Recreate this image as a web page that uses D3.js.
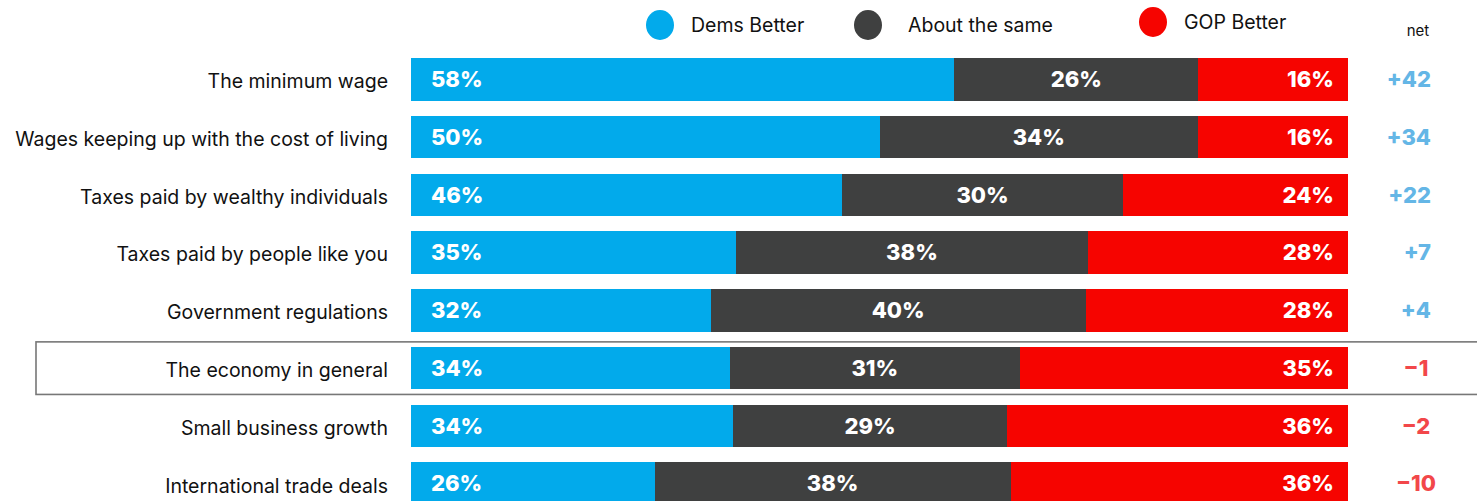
<!DOCTYPE html>
<html>
<head>
<meta charset="utf-8">
<script src="https://cdn.jsdelivr.net/npm/d3@7"></script>
<style>
  html, body { margin: 0; padding: 0; background: #fff; }
  svg { display: block; font-family: "Inter", "Lato", sans-serif; }
</style>
</head>
<body>
<svg id="chart" width="1477" height="501"></svg>
<script>
// Issue rows, top to bottom
const issues = [
  "The minimum wage",
  "Wages keeping up with the cost of living",
  "Taxes paid by wealthy individuals",
  "Taxes paid by people like you",
  "Government regulations",
  "The economy in general",
  "Small business growth",
  "International trade deals"
];
// Share saying each party would do better (percent)
const demsBetter = [58, 50, 46, 35, 32, 34, 34, 26];
const aboutSame  = [26, 34, 30, 38, 40, 31, 29, 38];
const gopBetter  = [16, 16, 24, 28, 28, 35, 36, 36];
// Net advantage (Dems minus GOP)
const netValues  = [42, 34, 22, 7, 4, -1, -2, -10];
const netLabels  = ["+42", "+34", "+22", "+7", "+4", "\u22121", "\u22122", "\u221210"];
// Series / legend
const seriesKeys   = ["dems", "same", "gop"];
const seriesNames  = ["Dems Better", "About the same", "GOP Better"];
const highlighted  = "The economy in general";

const colors = { dems: "#02aaeb", same: "#3f4040", gop: "#f60400" };
const netColors = { pos: "#64b6e6", neg: "#f2474a" };

const svg = d3.select("#chart");

const rows = issues.map((name, i) => ({
  name, dems: demsBetter[i], same: aboutSame[i], gop: gopBetter[i],
  net: netValues[i], netLabel: netLabels[i]
}));

// Each row is stacked to its own total so bars span the full width
const normalized = rows.map(r => {
  const tot = r.dems + r.same + r.gop;
  return { name: r.name, dems: r.dems / tot, same: r.same / tot, gop: r.gop / tot };
});
const stacked = d3.stack().keys(seriesKeys)(normalized);

const x = d3.scaleLinear().domain([0, 1]).range([411, 1348]);
const y = d3.scaleBand().domain(issues).range([58, 505]).paddingInner(0.263).paddingOuter(0);

// highlight frame around one row
const hy = y(highlighted);
svg.append("rect")
  .attr("x", 36).attr("y", hy - 5)
  .attr("width", 1460).attr("height", y.bandwidth() + 10)
  .attr("fill", "none").attr("stroke", "#777").attr("stroke-width", 1.6);

// stacked segments
const layers = svg.append("g").selectAll("g")
  .data(stacked).join("g")
  .attr("fill", d => colors[d.key]);

layers.selectAll("rect")
  .data(d => d.map(v => ({ key: d.key, v })))
  .join("rect")
  .attr("x", d => x(d.v[0]))
  .attr("y", d => y(d.v.data.name))
  .attr("width", d => x(d.v[1]) - x(d.v[0]))
  .attr("height", y.bandwidth())
  .attr("shape-rendering", "crispEdges");

// segment value labels
const valueFor = { dems: r => r.dems, same: r => r.same, gop: r => r.gop };
stacked.forEach(layer => {
  svg.append("g").selectAll("text")
    .data(layer.map((v, i) => ({ v, raw: valueFor[layer.key](rows[i]) })))
    .join("text")
    .attr("x", d => layer.key === "dems" ? x(d.v[0]) + 20
                 : layer.key === "same" ? (x(d.v[0]) + x(d.v[1])) / 2
                 : x(d.v[1]) - 14)
    .attr("y", d => y(d.v.data.name) + y.bandwidth() / 2)
    .attr("dy", "0.35em")
    .attr("text-anchor", layer.key === "dems" ? "start" : layer.key === "same" ? "middle" : "end")
    .attr("fill", "#fff")
    .attr("font-size", 22)
    .attr("font-weight", 800)
    .text(d => d.raw + "%");
});

// category labels
svg.append("g").selectAll("text")
  .data(issues).join("text")
  .attr("x", 388)
  .attr("y", d => y(d) + y.bandwidth() / 2 + 2)
  .attr("dy", "0.35em")
  .attr("text-anchor", "end")
  .attr("fill", "#111")
  .attr("font-size", 19.5)
  .attr("font-weight", 400)
  .text(d => d);

// net column
svg.append("text")
  .attr("x", 1418).attr("y", 31)
  .attr("dy", "0.35em")
  .attr("text-anchor", "middle")
  .attr("font-size", 15)
  .attr("fill", "#111")
  .text("net");

svg.append("g").selectAll("text")
  .data(rows).join("text")
  .attr("x", d => d.net >= 0 ? 1431 : 1416)
  .attr("y", d => y(d.name) + y.bandwidth() / 2)
  .attr("dy", "0.35em")
  .attr("text-anchor", d => d.net >= 0 ? "end" : "middle")
  .attr("font-size", 22)
  .attr("font-weight", 800)
  .attr("fill", d => d.net >= 0 ? netColors.pos : netColors.neg)
  .text(d => d.netLabel);

// legend
const legendX = [660, 868, 1153];
const legendY = [25, 25, 22];
const legend = svg.append("g").selectAll("g")
  .data(seriesKeys).join("g")
  .attr("transform", (d, i) => `translate(${legendX[i]},${legendY[i]})`);
legend.append("ellipse")
  .attr("rx", 14).attr("ry", 15)
  .attr("fill", d => colors[d]);
legend.append("text")
  .attr("x", (d, i) => i === 1 ? 40 : 31)
  .attr("dy", "0.35em")
  .attr("font-size", 19.5)
  .attr("font-weight", 400)
  .attr("fill", "#111")
  .text((d, i) => seriesNames[i]);
</script>
</body>
</html>
